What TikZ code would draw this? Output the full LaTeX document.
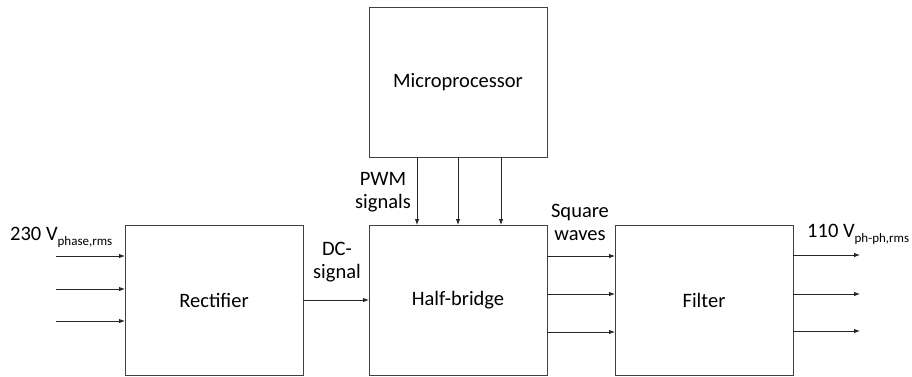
\documentclass[tikz,border=0pt]{standalone}
\usepackage{fontspec}
\setmainfont{Carlito}
\usetikzlibrary{arrows.meta,positioning,calc}
\newcommand{\lowidx}[1]{\raisebox{-0.28em}{\fontsize{13}{13}\selectfont #1}}

\begin{document}
\begin{tikzpicture}[x=1pt,y=-1pt,>={Latex[length=6pt,width=4.5pt]},
 blk/.style={draw=black!75,line width=1pt,minimum width=178pt,minimum height=150pt,outer sep=0pt,font=\fontsize{20.5}{24}\selectfont},
 lbl/.style={align=center,inner sep=0pt,font=\fontsize{20.5}{23}\selectfont},
 wire/.style={->,draw=black!85,line width=0.9pt}]
\useasboundingbox (0,0) rectangle (912,376);
\node[blk](hb) at (458,300){Half-bridge};
\node[blk,left=66pt of hb](rect){Rectifier};
\node[blk,right=68pt of hb](filt){Filter};
\node[blk,above=68pt of hb](mp){Microprocessor};
% three phases in and out
\coordinate (in1) at (56,256);\coordinate (in2) at (56,289);\coordinate (in3) at (56,321);
\coordinate (out1) at (860,255);\coordinate (out2) at (860,294);\coordinate (out3) at (860,331);
\draw[wire](in1)--(rect.west |- in1);\draw[wire](in2)--(rect.west |- in2);\draw[wire](in3)--(rect.west |- in3);
\draw[wire](filt.east |- out1)--(out1);\draw[wire](filt.east |- out2)--(out2);\draw[wire](filt.east |- out3)--(out3);
\draw[wire](rect)--(hb);
\draw[wire]([xshift=-41pt]mp.south)--([xshift=-41pt]hb.north);
\draw[wire](mp.south)--(hb.north);
\draw[wire]([xshift=43pt]mp.south)--([xshift=43pt]hb.north);
\draw[wire]([yshift=44pt]hb.east)--([yshift=44pt]hb.east -| filt.west);
\draw[wire]([yshift=6pt]hb.east)--([yshift=6pt]hb.east -| filt.west);
\draw[wire]([yshift=-32pt]hb.east)--([yshift=-32pt]hb.east -| filt.west);
% labels
\node[lbl,anchor=base west](vin) at (10,240){230 V\lowidx{phase,rms}};
\node[lbl,anchor=base west](vout) at (807,237){110 V\lowidx{ph-ph,rms}};
\node[lbl](dc) at (337,262){DC-\\signal};
\node[lbl](pwm) at (383,192){PWM\\signals};
\node[lbl](sq) at (580,222){Square\\waves};
\end{tikzpicture}
\end{document}
